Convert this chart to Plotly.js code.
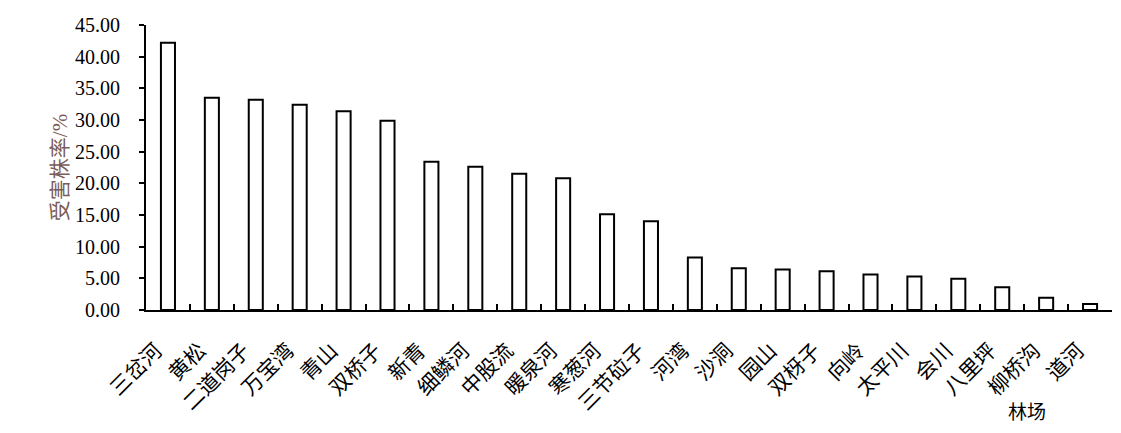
<!DOCTYPE html>
<html>
<head>
<meta charset="utf-8">
<script src="https://cdn.plot.ly/plotly-3.0.1.min.js"></script>
<style>
  html, body { margin: 0; padding: 0; background: #ffffff; }
  #chart { width: 1121px; height: 433px; }
</style>
</head>
<body>
<div id="chart"></div>
<script>
// forest farms (林场) and damaged-tree rate (受害株率, %)
const farms = ["三岔河", "黄松", "二道岗子", "万宝湾", "青山", "双桥子", "新青", "细鳞河",
  "中股流", "暖泉河", "寒葱河", "三节砬子", "河湾", "沙洞", "园山", "双枒子",
  "向岭", "太平川", "会川", "八里坪", "柳桥沟", "道河"];
const damageRate = [42.2, 33.5, 33.2, 32.4, 31.4, 29.9, 23.4, 22.6,
  21.5, 20.8, 15.1, 14.0, 8.3, 6.6, 6.4, 6.1,
  5.6, 5.3, 4.95, 3.6, 1.95, 0.95];
const yTicks = [0, 5, 10, 15, 20, 25, 30, 35, 40, 45];

const fontFam = "'Liberation Serif', 'Noto Sans CJK SC', serif";

const trace = {
  type: 'bar',
  x: farms,
  y: damageRate,
  width: 0.32,
  marker: { color: '#ffffff', line: { color: '#000000', width: 2 } },
  hoverinfo: 'x+y'
};

const layout = {
  width: 1121,
  height: 433,
  margin: { l: 146, r: 9, t: 25, b: 123 },
  paper_bgcolor: '#ffffff',
  plot_bgcolor: '#ffffff',
  showlegend: false,
  font: { family: fontFam, color: '#000000', size: 18 },
  xaxis: {
    type: 'category',
    showline: true,
    linecolor: '#000000',
    linewidth: 2,
    ticks: 'inside',
    tickson: 'boundaries',
    ticklen: 6,
    tickwidth: 2,
    tickcolor: '#000000',
    tickangle: -45,
    ticklabelstandoff: 18,
    ticklabelshift: -12,
    tickfont: { family: fontFam, size: 21, color: '#000000' },
    showgrid: false,
    zeroline: false,
    automargin: false
  },
  yaxis: {
    range: [0, 45],
    tickvals: yTicks,
    tickformat: '.2f',
    showline: true,
    linecolor: '#000000',
    linewidth: 2,
    ticks: 'outside',
    ticklen: 5,
    tickwidth: 2,
    tickcolor: '#000000',
    ticklabelstandoff: 15,
    tickfont: { family: fontFam, size: 20, color: '#000000' },
    showgrid: false,
    zeroline: false,
    automargin: false,
    title: { text: '受害株率/%', font: { family: fontFam, size: 21, color: '#7a5c58' }, standoff: 2 }
  },
  annotations: [{
    text: '林场',
    xref: 'paper', yref: 'paper',
    x: 0.912, y: 0,
    yshift: -102,
    xanchor: 'center', yanchor: 'middle',
    showarrow: false,
    font: { family: fontFam, size: 19, color: '#000000' }
  }]
};

Plotly.newPlot('chart', [trace], layout, { displayModeBar: false, staticPlot: true });
</script>
</body>
</html>
